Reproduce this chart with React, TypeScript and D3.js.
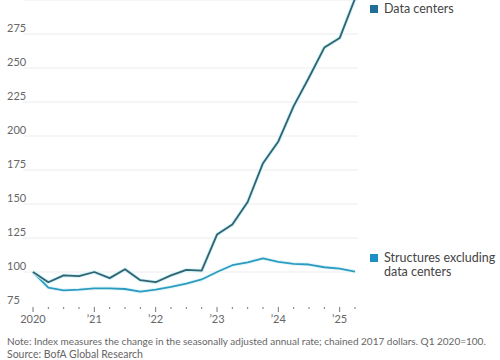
import React from "react";
import * as d3 from "d3";

const quarters: string[] = [
  "2020Q1","2020Q2","2020Q3","2020Q4",
  "2021Q1","2021Q2","2021Q3","2021Q4",
  "2022Q1","2022Q2","2022Q3","2022Q4",
  "2023Q1","2023Q2","2023Q3","2023Q4",
  "2024Q1","2024Q2","2024Q3","2024Q4",
  "2025Q1","2025Q2",
];
const dataCenters: number[] = [
  100, 92.5, 97.5, 97, 100, 95.5, 102, 94, 92.5, 97.5, 101.5, 101,
  127.5, 135, 151.5, 180, 196, 222, 243, 265, 272, 301,
];
const structures: number[] = [
  100, 88.5, 86.5, 87, 88, 88, 87.5, 85.5, 87, 89, 91.5, 94.5,
  100, 105, 107, 110, 107.5, 106, 105.5, 103.5, 102.5, 100.2,
];
const yTicks: number[] = [75, 100, 125, 150, 175, 200, 225, 250, 275, 300];
const yearLabels: string[] = ["2020", "’21", "’22", "’23", "’24", "’25"];
const legendLabels: string[][] = [["Data centers"], ["Structures excluding", "data centers"]];
const note = "Note: Index measures the change in the seasonally adjusted annual rate; chained 2017 dollars. Q1 2020=100.";
const source = "Source: BofA Global Research";

const FONT = "Lato, 'Noto Sans', sans-serif";

export default function App() {
  const W = 500, H = 360;
  const x = d3.scaleLinear().domain([0, quarters.length - 1]).range([33, 355]);
  const y = d3.scaleLinear().domain([75, 300]).range([306, 0]);
  const line = d3.line<number>().x((_, i) => x(i)).y((d) => y(d));
  const dcColor = "#35626e";
  const stColor = "#2b9cc0";

  return (
    <svg width={W} height={H} style={{ position: "absolute", left: 0, top: 0, background: "#fff" }} fontFamily={FONT}>
      <defs>
        <clipPath id="plot">
          <rect x={0} y={-1} width={370} height={320} />
        </clipPath>
      </defs>
      {yTicks.map((t) => (
        <g key={t}>
          {t !== 75 && <line x1={23} x2={358} y1={y(t)} y2={y(t)} stroke="#ececec" strokeWidth={1} />}
          {t !== 300 && <text x={7} y={y(t) - 2} fontSize={11} fill="#666">{t}</text>}
        </g>
      ))}
      {quarters.map((q, i) => {
        const major = q.endsWith("Q1");
        return (
          <line key={q} x1={x(i)} x2={x(i)} y1={307} y2={major ? 312 : 309} stroke="#777" strokeWidth={1} />
        );
      })}
      {quarters.map((q, i) =>
        q.endsWith("Q1") ? (
          <text key={"l" + q} x={x(i)} y={323} fontSize={11} fill="#666" textAnchor="middle">
            {yearLabels[Math.floor(i / 4)]}
          </text>
        ) : null
      )}
      <g clipPath="url(#plot)">
        <path d={line(structures) || ""} fill="none" stroke="#e6f7fb" strokeWidth={4} strokeLinejoin="round" />
        <path d={line(structures) || ""} fill="none" stroke={stColor} strokeWidth={1.8} strokeLinejoin="round" />
        <path d={line(dataCenters) || ""} fill="none" stroke="#c8f4fb" strokeWidth={3.6} strokeLinejoin="round" />
        <path d={line(dataCenters) || ""} fill="none" stroke={dcColor} strokeWidth={1.8} strokeLinejoin="round" />
      </g>
      <rect x={370} y={5} width={8} height={8} fill="#1f6f98" />
      <text x={384} y={13} fontSize={12.5} fill="#444">{legendLabels[0][0]}</text>
      <rect x={370} y={254} width={8} height={8} fill="#1b8fc6" />
      {legendLabels[1].map((s, i) => (
        <text key={s} x={384} y={262 + i * 14} fontSize={12.5} fill="#444">{s}</text>
      ))}
      <text x={7} y={345} fontSize={10} fill="#666">{note}</text>
      <text x={7} y={358} fontSize={10.5} fill="#666">{source}</text>
    </svg>
  );
}
